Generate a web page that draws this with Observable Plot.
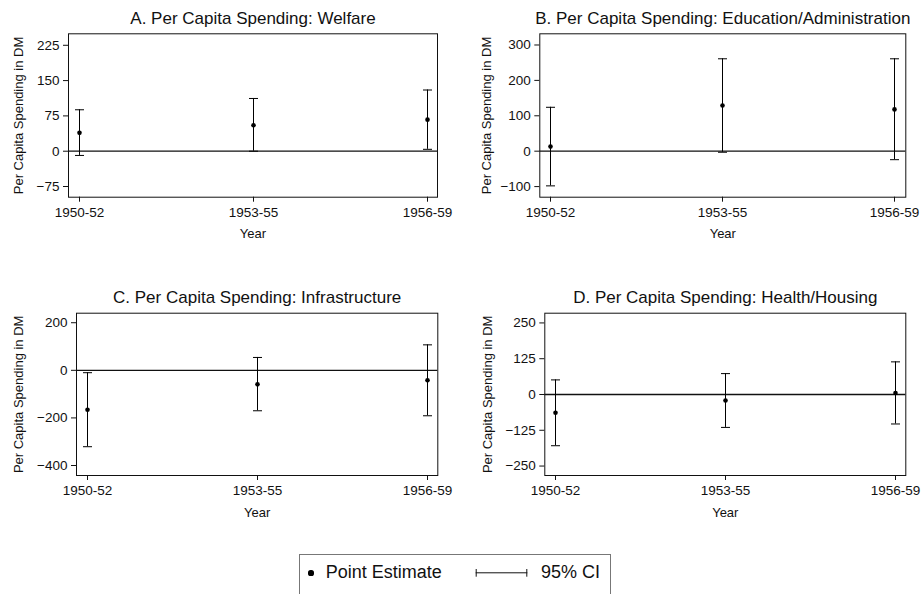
<!DOCTYPE html>
<html>
<head>
<meta charset="utf-8">
<script src="https://cdn.jsdelivr.net/npm/d3@7"></script>
<script src="https://cdn.jsdelivr.net/npm/@observablehq/plot@0.6"></script>
<style>
  html, body { margin: 0; padding: 0; background: #fff; }
  body { width: 922px; height: 594px; position: relative; overflow: hidden;
         font-family: "Liberation Sans", Arial, Helvetica, sans-serif; color: #111; }
  .panel { position: absolute; }
  .panel svg g[aria-label$="tick label"] text { font-size: 13.5px !important; font-variant: normal !important; }
  #legend { position: absolute; left: 299px; top: 554px; width: 312px; height: 60px;
            border: 1px solid #777; box-sizing: border-box; background: #fff; }
  #legend .lab { position: absolute; top: 7.7px; font-size: 18px; line-height: 18px; white-space: nowrap; }
  #legend .dot { position: absolute; left: 8.4px; top: 15.4px; width: 5.2px; height: 5.2px; border-radius: 50%; background: #000; }
  #legend svg { position: absolute; left: 0; top: 0; }
</style>
</head>
<body>
<div id="legend">
  <span class="dot"></span>
  <span class="lab" style="left:25.7px">Point Estimate</span>
  <svg width="312" height="40"><g stroke="#111" stroke-width="1" fill="none">
    <line x1="175.7" y1="17.8" x2="227.3" y2="17.8"></line>
    <line x1="176.2" y1="14" x2="176.2" y2="21.7"></line>
    <line x1="226.8" y1="14" x2="226.8" y2="21.7"></line>
  </g></svg>
  <span class="lab" style="left:241px">95% CI</span>
</div>
<script>
// ---- Data ----
const categories = ["1950-52", "1953-55", "1956-59"];

const welfareEst = [39, 55, 67];
const welfareLo  = [-9, 0, 4];
const welfareHi  = [88, 112, 130];

const eduEst = [13, 129, 118];
const eduLo  = [-98, -3, -24];
const eduHi  = [124, 261, 261];

const infraEst = [-166, -59, -42];
const infraLo  = [-321, -170, -191];
const infraHi  = [-10, 54, 107];

const healthEst = [-64, -21, 5];
const healthLo  = [-179, -115, -103];
const healthHi  = [51, 73, 114];

const welfareTicks = [-75, 0, 75, 150, 225];
const eduTicks     = [-100, 0, 100, 200, 300];
const infraTicks   = [-400, -200, 0, 200];
const healthTicks  = [-250, -125, 0, 125, 250];

const titles = [
  "A. Per Capita Spending: Welfare",
  "B. Per Capita Spending: Education/Administration",
  "C. Per Capita Spending: Infrastructure",
  "D. Per Capita Spending: Health/Housing"
];
const yLabel = "Per Capita Spending in DM";
const xLabel = "Year";

// horizontal cap symbol for CI whiskers
const capSymbol = {
  draw(ctx, size) {
    const r = Math.sqrt(size / Math.PI);
    ctx.moveTo(-r, 0);
    ctx.lineTo(r, 0);
  }
};

// ---- Panels ----
const FONT = '"Liberation Sans", Arial, Helvetica, sans-serif';
const panels = [
  {title: titles[0], est: welfareEst, lo: welfareLo, hi: welfareHi, ticks: welfareTicks,
   domain: [-97.7, 249.4], left: 0, top: 0, mL: 68, mR: 24, mT: 33.3, mB: 53.3, lblOff: 55},
  {title: titles[1], est: eduEst, lo: eduLo, hi: eduHi, ticks: eduTicks,
   domain: [-130, 331.6], left: 461, top: 0, mL: 78.3, mR: 16.7, mT: 33.3, mB: 53.3, lblOff: 58},
  {title: titles[2], est: infraEst, lo: infraLo, hi: infraHi, ticks: infraTicks,
   domain: [-442, 240], left: 0, top: 280, mL: 76, mR: 23.7, mT: 32.7, mB: 55, lblOff: 63},
  {title: titles[3], est: healthEst, lo: healthLo, hi: healthHi, ticks: healthTicks,
   domain: [-283, 284], left: 461, top: 280, mL: 83.3, mR: 16.7, mT: 32.7, mB: 55, lblOff: 62}
];

for (const p of panels) {
  const rows = categories.map((c, i) => ({cat: c, est: p.est[i], lo: p.lo[i], hi: p.hi[i]}));
  const chart = Plot.plot({
    width: 461,
    height: 250,
    marginLeft: p.mL, marginRight: p.mR, marginTop: p.mT, marginBottom: p.mB,
    style: {fontFamily: FONT, fontSize: "13px", color: "#111", background: "transparent", overflow: "visible"},
    x: {type: "point", domain: categories, padding: 0.06},
    y: {domain: p.domain},
    marks: [
      Plot.ruleY([0], {stroke: "#111", strokeWidth: 1.3}),
      Plot.ruleX(rows, {x: "cat", y1: "lo", y2: "hi", stroke: "#000", strokeWidth: 1}),
      Plot.dot(rows, {x: "cat", y: "lo", symbol: capSymbol, r: 4.5, stroke: "#000", fill: "none", strokeWidth: 1}),
      Plot.dot(rows, {x: "cat", y: "hi", symbol: capSymbol, r: 4.5, stroke: "#000", fill: "none", strokeWidth: 1}),
      Plot.dot(rows, {x: "cat", y: "est", r: 2.3, fill: "#000", stroke: null}),
      Plot.frame({stroke: "#111", strokeWidth: 1}),
      Plot.axisY({ticks: p.ticks, tickSize: 5, tickPadding: 4, label: yLabel,
                  labelAnchor: "center", labelOffset: p.lblOff, labelArrow: "none"}),
      Plot.axisX({tickSize: 5, tickPadding: 5, label: xLabel, labelAnchor: "center",
                  labelOffset: 41, labelArrow: "none"}),
      Plot.text([p.title], {text: d => d, frameAnchor: "top", dy: -10, lineAnchor: "bottom",
                            fontSize: 17, fill: "#111"})
    ]
  });
  const div = document.createElement("div");
  div.className = "panel";
  div.style.left = p.left + "px";
  div.style.top = p.top + "px";
  div.appendChild(chart);
  document.body.appendChild(div);
}
</script>
</body>
</html>
